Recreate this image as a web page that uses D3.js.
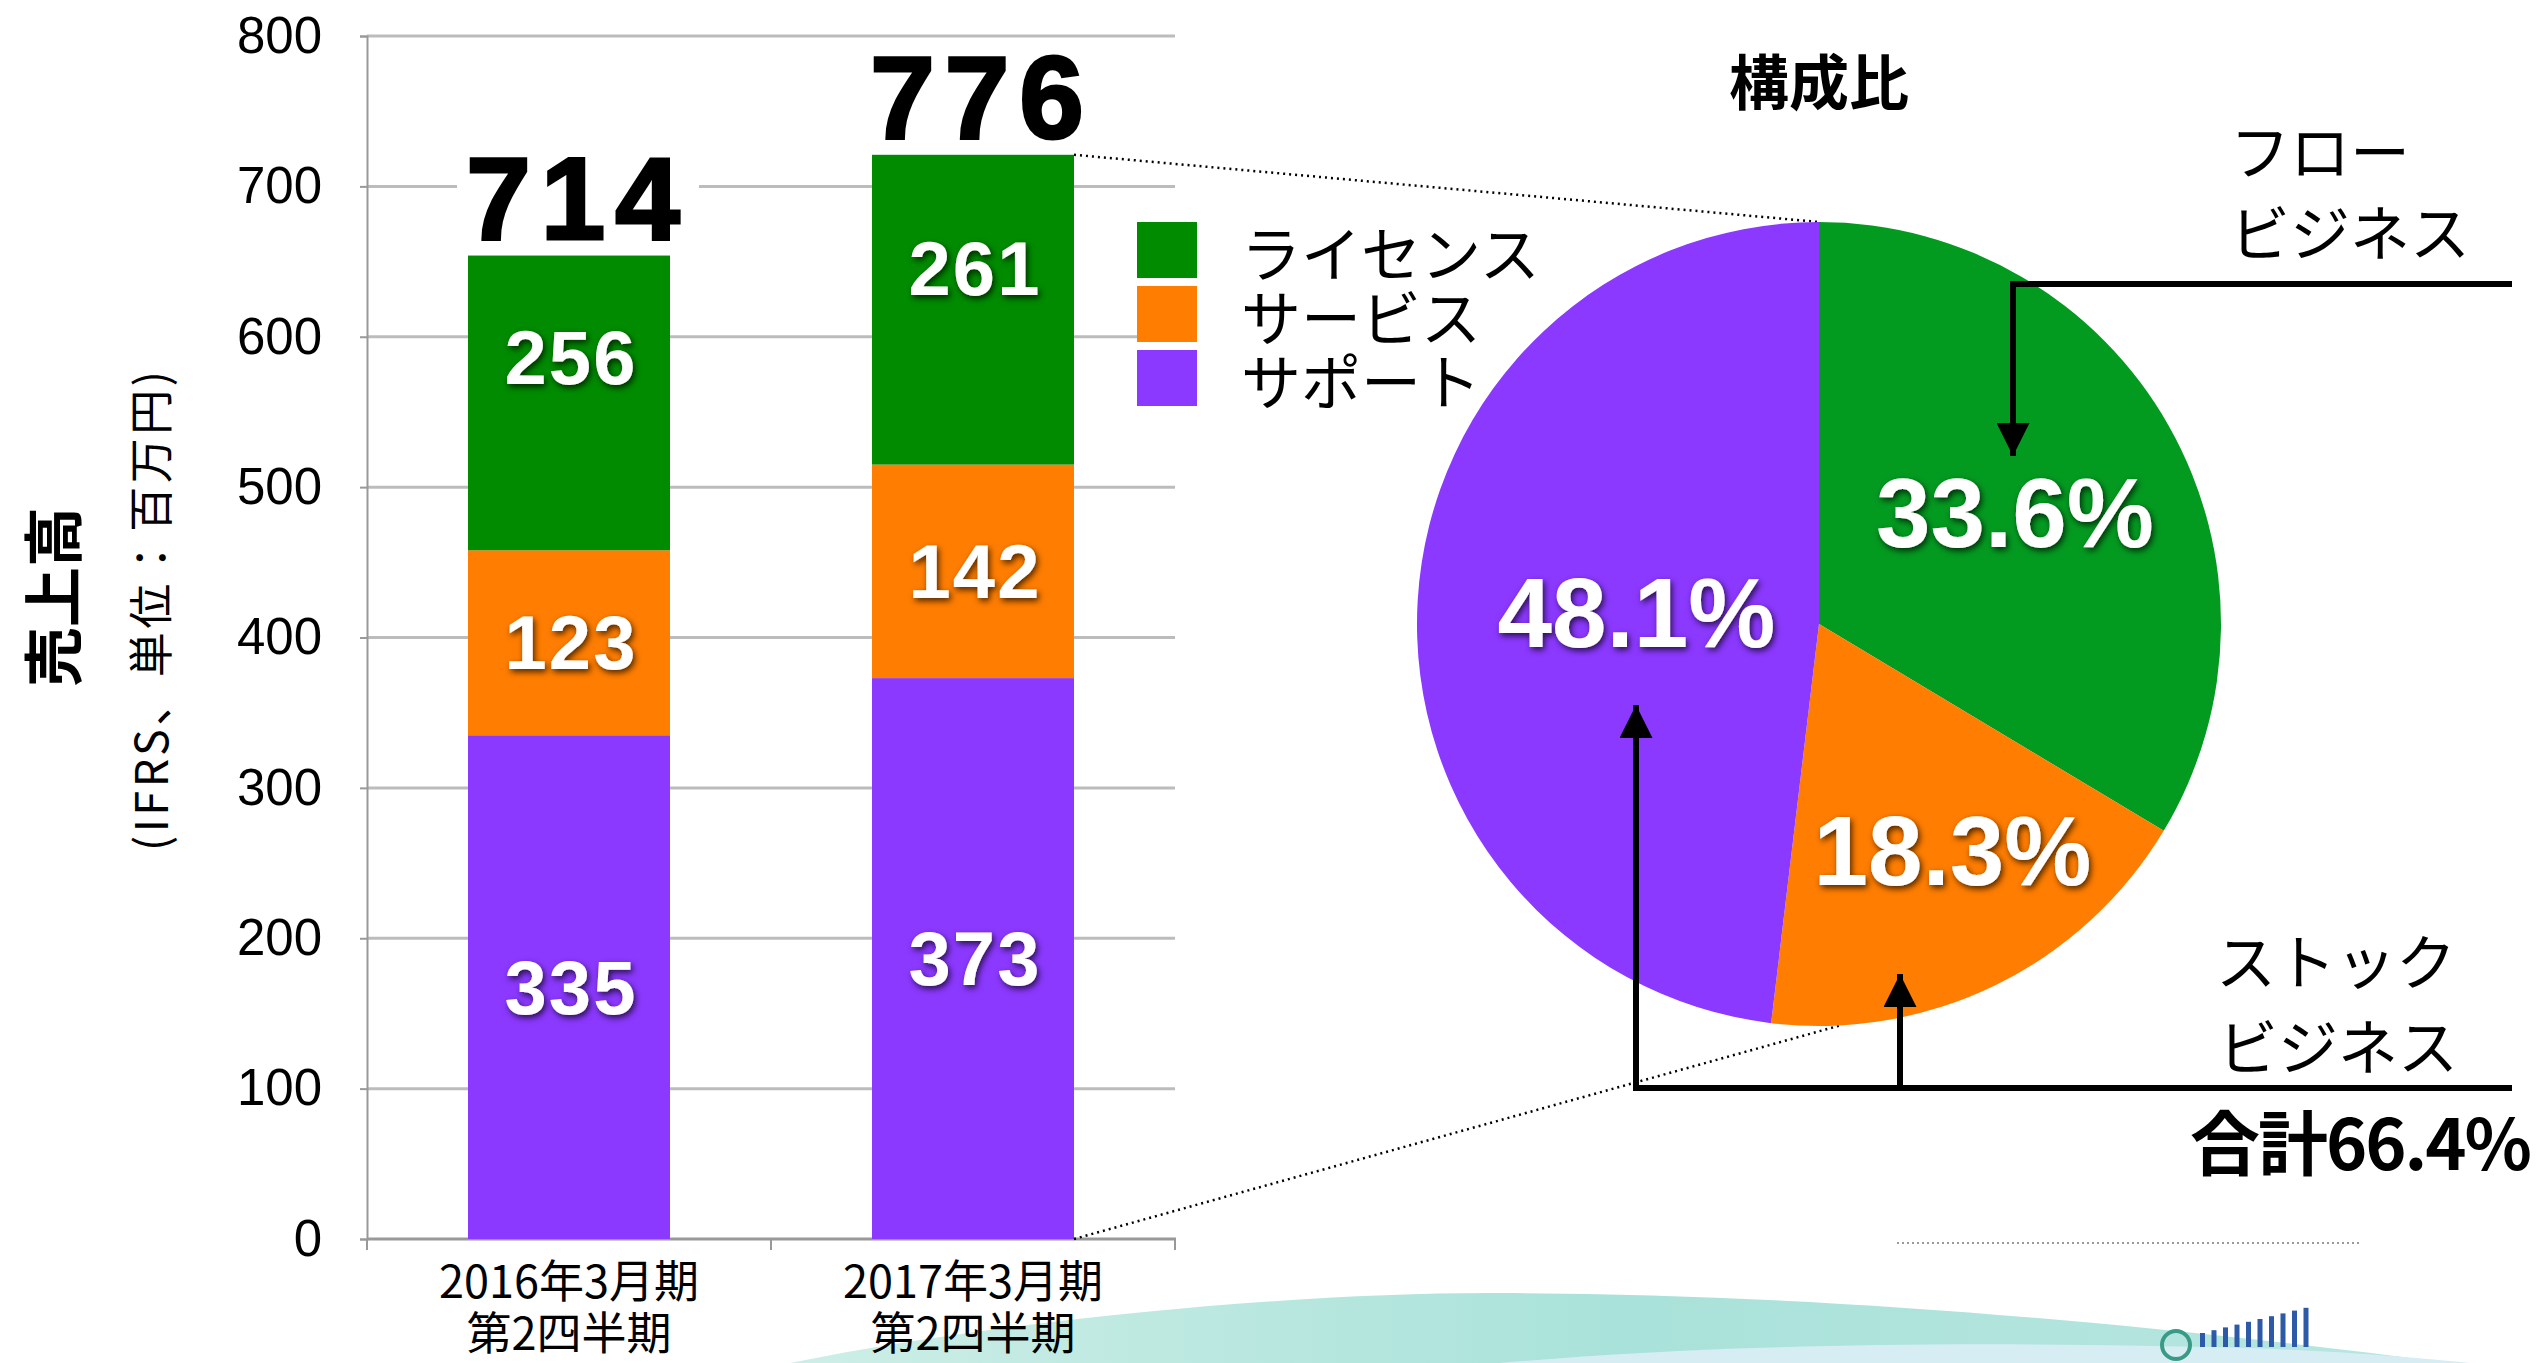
<!DOCTYPE html>
<html>
<head>
<meta charset="utf-8">
<script src="https://cdn.jsdelivr.net/npm/d3@7"></script>
<style>
  html, body { margin: 0; padding: 0; background: #fff; }
  svg { display: block; }
</style>
</head>
<body>
<div id="chart"></div>
<script>
// 売上高の内訳（百万円）
const categories = ["2016年3月期", "2017年3月期"];
const categorySub = ["第2四半期", "第2四半期"];
const seriesNames = ["ライセンス", "サービス", "サポート"];
const supportValues = [335, 373];
const serviceValues = [123, 142];
const licenseValues = [256, 261];      // ラベルの値
const licenseBarValues = [196, 206];   // 図で描かれている棒の高さ
const totalValues = [714, 776];
const yTicks = [0, 100, 200, 300, 400, 500, 600, 700, 800];

// 構成比
const pieNames = ["ライセンス", "サービス", "サポート"];
const pieShares = [33.6, 18.3, 48.1];
const stockTotalLabel = "合計66.4%";

const width = 2537;
const height = 1363;

const barColors = { "ライセンス": "#008b00", "サービス": "#ff7d00", "サポート": "#8b38ff" };
const pieColors = { "ライセンス": "#039a20", "サービス": "#ff7d00", "サポート": "#8b38ff" };

const jp = "'Noto Sans CJK JP', 'Noto Sans', sans-serif";
const num = "'Liberation Sans', Arial, sans-serif";

const svg = d3.select("#chart")
    .append("svg")
    .attr("width", width)
    .attr("height", height);

const defs = svg.append("defs");
defs.append("filter")
    .attr("id", "shadow")
    .attr("x", "-20%").attr("y", "-30%").attr("width", "140%").attr("height", "160%")
    .append("feDropShadow")
    .attr("dx", 2).attr("dy", 3)
    .attr("stdDeviation", 3)
    .attr("flood-color", "#000")
    .attr("flood-opacity", 0.7);

const grad = defs.append("linearGradient").attr("id", "teal").attr("x1", "0").attr("x2", "1");
grad.append("stop").attr("offset", "0%").attr("stop-color", "#cdeee6");
grad.append("stop").attr("offset", "50%").attr("stop-color", "#a9e2da");
grad.append("stop").attr("offset", "100%").attr("stop-color", "#b8e6df");

// 下部の装飾
svg.append("path")
    .attr("d", "M790,1363 C1000,1320 1300,1292 1500,1293 C1800,1294 2100,1318 2450,1363 Z")
    .attr("fill", "url(#teal)");
svg.append("path")
    .attr("d", "M1500,1363 C1700,1345 1950,1340 2250,1348 C2350,1352 2420,1358 2470,1363 Z")
    .attr("fill", "#d6eef3");
svg.append("line")
    .attr("x1", 1897).attr("x2", 2361)
    .attr("y1", 1243).attr("y2", 1243)
    .attr("stroke", "#999")
    .attr("stroke-width", 2)
    .attr("stroke-dasharray", "2,3");
const logo = svg.append("g");
logo.append("circle").attr("cx", 2176).attr("cy", 1345).attr("r", 14)
    .attr("fill", "none").attr("stroke", "#3a9a88").attr("stroke-width", 4);
d3.range(10).forEach(i => {
    logo.append("rect")
        .attr("x", 2200 + i * 11.5)
        .attr("y", 1333 - i * 2.8)
        .attr("width", 5)
        .attr("height", 14 + i * 2.8)
        .attr("fill", "#2c5aa8");
});

// ---------- 積み上げ棒グラフ ----------
const x = d3.scaleBand()
    .domain(categories)
    .range([367, 1175])
    .paddingInner(0.5)
    .paddingOuter(0.25);

const y = d3.scaleLinear()
    .domain([0, 800])
    .range([1239, 36]);

// グリッド線
svg.append("g")
    .selectAll("line")
    .data(yTicks.filter(d => d > 0))
    .enter().append("line")
    .attr("x1", 367).attr("x2", 1175)
    .attr("y1", d => y(d)).attr("y2", d => y(d))
    .attr("stroke", "#bcbcbc")
    .attr("stroke-width", 3);

// Y軸
const yAxis = svg.append("g")
    .attr("transform", "translate(367,0)")
    .call(d3.axisLeft(y).tickValues(yTicks).tickSize(7).tickPadding(38));
yAxis.select(".domain").attr("stroke", "#999").attr("stroke-width", 2);
yAxis.selectAll(".tick line").attr("stroke", "#999").attr("stroke-width", 2);
yAxis.selectAll(".tick text")
    .attr("fill", "#000")
    .style("font-family", num)
    .style("font-size", "51px");

// X軸
const xAxisLine = svg.append("g");
xAxisLine.append("line")
    .attr("x1", 367).attr("x2", 1176)
    .attr("y1", y(0)).attr("y2", y(0))
    .attr("stroke", "#999").attr("stroke-width", 3);
const xr = x.range();
xAxisLine.selectAll(".xt")
    .data([xr[0], (xr[0] + xr[1]) / 2, xr[1]])
    .enter().append("line")
    .attr("x1", d => d).attr("x2", d => d)
    .attr("y1", y(0)).attr("y2", y(0) + 11)
    .attr("stroke", "#999").attr("stroke-width", 2);

categories.forEach((c, i) => {
    const cx = x(c) + x.bandwidth() / 2;
    svg.append("text")
        .attr("x", cx).attr("y", 1298)
        .attr("text-anchor", "middle")
        .style("font-family", jp)
        .style("font-size", "45px")
        .text(c);
    svg.append("text")
        .attr("x", cx).attr("y", 1350)
        .attr("text-anchor", "middle")
        .style("font-family", jp)
        .style("font-size", "45px")
        .text(categorySub[i]);
});

// 軸タイトル
svg.append("text")
    .attr("transform", "translate(49,597) rotate(-90)")
    .attr("text-anchor", "middle")
    .attr("dominant-baseline", "central")
    .style("font-family", jp)
    .style("font-weight", "bold")
    .style("font-size", "60px")
    .text("売上高");
svg.append("text")
    .attr("transform", "translate(148,611) rotate(-90)")
    .attr("text-anchor", "middle")
    .attr("dominant-baseline", "central")
    .attr("textLength", 480)
    .attr("lengthAdjust", "spacing")
    .style("font-family", jp)
    .style("font-size", "45px")
    .text("(IFRS、単位：百万円)");

// 棒
const barRows = categories.map((c, i) => ({
    category: c,
    "サポート": supportValues[i],
    "サービス": serviceValues[i],
    "ライセンス": licenseBarValues[i]
}));
const labelRows = categories.map((c, i) => ({
    category: c,
    "サポート": supportValues[i],
    "サービス": serviceValues[i],
    "ライセンス": licenseValues[i]
}));
const stackKeys = ["サポート", "サービス", "ライセンス"];
const barStack = d3.stack().keys(stackKeys)(barRows);
const labelStack = d3.stack().keys(stackKeys)(labelRows);

svg.append("g")
    .selectAll("g")
    .data(barStack)
    .enter().append("g")
    .attr("fill", d => barColors[d.key])
    .selectAll("rect")
    .data(d => d)
    .enter().append("rect")
    .attr("x", d => x(d.data.category))
    .attr("y", d => y(d[1]))
    .attr("width", x.bandwidth())
    .attr("height", d => y(d[0]) - y(d[1]));

// 棒の中の数値
labelStack.forEach(layer => {
    layer.forEach(d => {
        svg.append("text")
            .attr("x", x(d.data.category) + x.bandwidth() / 2 + 2)
            .attr("y", y((d[0] + d[1]) / 2))
            .attr("text-anchor", "middle")
            .attr("dominant-baseline", "central")
            .attr("fill", "#fff")
            .attr("filter", "url(#shadow)")
            .style("font-family", num)
            .style("font-weight", "bold")
            .style("font-size", "76px")
            .style("letter-spacing", "2px")
            .text(d.data[layer.key]);
    });
});

// 合計
const topLayer = barStack[barStack.length - 1];
totalValues.forEach((t, i) => {
    const cx = x(categories[i]) + x.bandwidth() / 2 + 9;
    const base = y(topLayer[i][1]) - 17;
    svg.append("rect")
        .attr("x", cx - 121).attr("y", base - 84)
        .attr("width", 242).attr("height", 86)
        .attr("fill", "#fff");
    svg.append("text")
        .attr("x", cx).attr("y", base)
        .attr("text-anchor", "middle")
        .attr("stroke", "#000")
        .attr("stroke-width", 3)
        .style("font-family", num)
        .style("font-weight", "900")
        .style("font-size", "116px")
        .style("letter-spacing", "10px")
        .text(t);
});

// 凡例
const legend = svg.append("g").attr("transform", "translate(1137,222)");
seriesNames.forEach((s, i) => {
    legend.append("rect")
        .attr("x", 0).attr("y", i * 64)
        .attr("width", 60).attr("height", 56)
        .attr("fill", barColors[s]);
    legend.append("text")
        .attr("x", 104).attr("y", i * 64 + 28)
        .attr("dominant-baseline", "central")
        .style("font-family", jp)
        .style("font-size", "60px")
        .text(s);
});

// ---------- 円グラフ ----------
const cx = 1819, cy = 624, R = 402;

const pie = d3.pie().sort(null).value(d => d.value);
const arcs = pie(pieNames.map((n, i) => ({ name: n, value: pieShares[i] })));
const arc = d3.arc().innerRadius(0).outerRadius(R);

// 点線
const bar2 = categories[1];
const bar2Right = x(bar2) + x.bandwidth();
const dotted = svg.append("g")
    .attr("stroke", "#000")
    .attr("stroke-width", 2.5)
    .attr("stroke-dasharray", "2,4");
dotted.append("line")
    .attr("x1", bar2Right).attr("y1", y(topLayer[1][1]))
    .attr("x2", cx).attr("y2", cy - R);
const ang = 177 * Math.PI / 180;
dotted.append("line")
    .attr("x1", bar2Right).attr("y1", y(0))
    .attr("x2", cx + R * Math.sin(ang)).attr("y2", cy - R * Math.cos(ang));

const pieG = svg.append("g").attr("transform", `translate(${cx},${cy})`);
pieG.selectAll("path")
    .data(arcs)
    .enter().append("path")
    .attr("d", arc)
    .attr("fill", d => pieColors[d.data.name]);

const labelRadius = { "ライセンス": 0.56, "サービス": 0.63, "サポート": 0.455 };
const labelShift = { "ライセンス": 0, "サービス": 22, "サポート": 0 };
arcs.forEach(d => {
    const a = (d.startAngle + d.endAngle) / 2;
    const r = R * labelRadius[d.data.name];
    pieG.append("text")
        .attr("x", r * Math.sin(a) + labelShift[d.data.name])
        .attr("y", -r * Math.cos(a))
        .attr("text-anchor", "middle")
        .attr("dominant-baseline", "central")
        .attr("fill", "#fff")
        .attr("filter", "url(#shadow)")
        .style("font-family", num)
        .style("font-weight", "bold")
        .style("font-size", "98px")
        .text(d.data.value.toFixed(1) + "%");
});

svg.append("text")
    .attr("x", cx).attr("y", 78)
    .attr("text-anchor", "middle")
    .attr("dominant-baseline", "central")
    .style("font-family", jp)
    .style("font-weight", "bold")
    .style("font-size", "60px")
    .text("構成比");

// 矢印
defs.append("marker")
    .attr("id", "arrow")
    .attr("viewBox", "0 0 10 10")
    .attr("refX", 10).attr("refY", 5)
    .attr("markerWidth", 5.5).attr("markerHeight", 5.5)
    .attr("markerUnits", "strokeWidth")
    .attr("orient", "auto")
    .append("path")
    .attr("d", "M0,0 L10,5 L0,10 Z")
    .attr("fill", "#000");

const arrows = svg.append("g")
    .attr("stroke", "#000")
    .attr("stroke-width", 6)
    .attr("fill", "none");

// フロービジネス
arrows.append("path")
    .attr("d", "M2512,284 L2013,284 L2013,456")
    .attr("marker-end", "url(#arrow)");
// ストックビジネス
arrows.append("path")
    .attr("d", "M2512,1088 L1636,1088 L1636,705")
    .attr("marker-end", "url(#arrow)");
arrows.append("path")
    .attr("d", "M1900,1088 L1900,974")
    .attr("marker-end", "url(#arrow)");

const noteStyle = t => t
    .style("font-family", jp)
    .style("font-size", "60px")
    .attr("dominant-baseline", "central");
noteStyle(svg.append("text").attr("x", 2230).attr("y", 148).text("フロー"));
noteStyle(svg.append("text").attr("x", 2230).attr("y", 229).text("ビジネス"));
noteStyle(svg.append("text").attr("x", 2216).attr("y", 958).text("ストック"));
noteStyle(svg.append("text").attr("x", 2218).attr("y", 1043).text("ビジネス"));

svg.append("text")
    .attr("x", 2530).attr("y", 1139)
    .attr("text-anchor", "end")
    .attr("dominant-baseline", "central")
    .style("font-family", jp)
    .style("font-weight", "bold")
    .style("font-size", "70px")
    .style("letter-spacing", "-2px")
    .text(stockTotalLabel);
</script>
</body>
</html>
